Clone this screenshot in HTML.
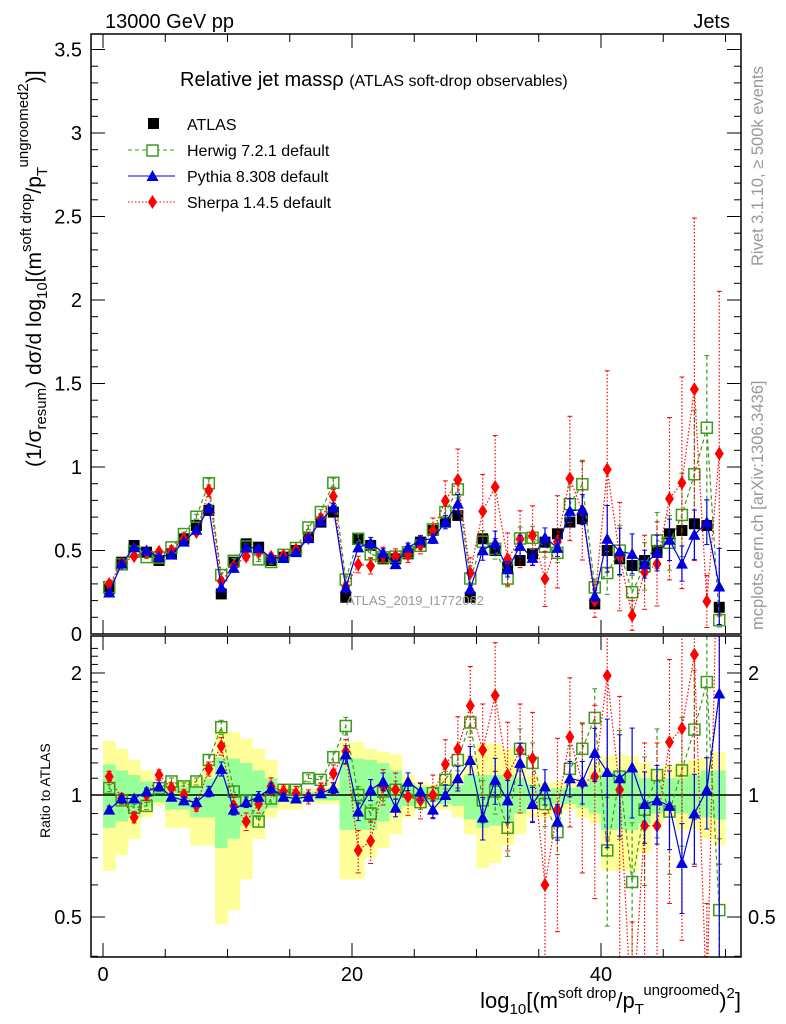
<!DOCTYPE html>
<html><head><meta charset="utf-8">
<style>
html,body{margin:0;background:#fff;width:786px;height:1024px;overflow:hidden;}
svg{display:block;font-family:"Liberation Sans",sans-serif;}
</style></head>
<body>
<svg id="chart" width="786" height="1024" viewBox="0 0 786 1024">
<g id="bands"></g>
<g id="marks"></g>
<g id="axes"></g>
<text x="105" y="28" font-size="20">13000 GeV pp</text>
<text x="730" y="28" font-size="20" text-anchor="end">Jets</text>
<text x="180" y="86" font-size="20">Relative jet massρ <tspan font-size="16">(ATLAS soft-drop observables)</tspan></text>
<g>
<rect x="148" y="118" width="11" height="11" fill="#000"/>
<text x="187" y="130" font-size="16">ATLAS</text>
<line x1="128" y1="150" x2="175" y2="150" stroke="#3d9a1a" stroke-dasharray="4,3"/>
<rect x="147" y="145" width="11" height="11" fill="#fff" stroke="#3d9a1a" stroke-width="1.5"/>
<text x="187" y="156" font-size="16">Herwig 7.2.1 default</text>
<line x1="128" y1="176" x2="175" y2="176" stroke="#0000dd"/>
<polygon points="152.5,170 158.5,181 146.5,181" fill="#0000dd"/>
<text x="187" y="182" font-size="16">Pythia 8.308 default</text>
<line x1="128" y1="202" x2="175" y2="202" stroke="#f00" stroke-dasharray="1.5,2"/>
<polygon points="152.5,195 157,202 152.5,209 148,202" fill="#f00"/>
<text x="187" y="208" font-size="16">Sherpa 1.4.5 default</text>
</g>
<text x="415" y="605" font-size="13" fill="#999" text-anchor="middle">ATLAS_2019_I1772062</text>
<text transform="translate(763,266) rotate(-90)" font-size="16.5" fill="#999">Rivet 3.1.10, ≥ 500k events</text>
<text transform="translate(763,630) rotate(-90)" font-size="16.5" fill="#999">mcplots.cern.ch [arXiv:1306.3436]</text>
<text transform="translate(41,467) rotate(-90)" font-size="21">(1/σ<tspan font-size="15" dy="5">resum</tspan><tspan dy="-5">) dσ/d log</tspan><tspan font-size="15" dy="6">10</tspan><tspan dy="-6">[(m</tspan><tspan font-size="15" dy="-10">soft drop</tspan><tspan dy="10">/p</tspan><tspan font-size="15" dy="6">T</tspan><tspan font-size="15" dy="-19">ungroomed</tspan><tspan font-size="15" dy="0">2</tspan><tspan dy="13">)]</tspan></text>
<text transform="translate(50,838) rotate(-90)" font-size="14">Ratio to ATLAS</text>
<text x="741" y="1008" font-size="22" text-anchor="end">log<tspan font-size="15" dy="6">10</tspan><tspan dy="-6">[(m</tspan><tspan font-size="15" dy="-10">soft drop</tspan><tspan dy="10">/p</tspan><tspan font-size="15" dy="6">T</tspan><tspan font-size="15" dy="-19">ungroomed</tspan><tspan dy="13">)</tspan><tspan font-size="15" dy="-10">2</tspan><tspan dy="10">]</tspan></text>
</svg>
<script>
const bins = [0,1,2,3,4,5,6,7,8,9,10,11,12,13,14,15,16,17,18,19,20,21,22,23,24,25,26,27,28,29,30,31,32,33,34,35,36,37,38,39,40,41,42,43,44,45,46,47,48,49];
const atlas = [0.27,0.43,0.53,0.49,0.44,0.48,0.57,0.65,0.74,0.24,0.43,0.54,0.52,0.44,0.46,0.5,0.58,0.67,0.73,0.22,0.57,0.53,0.45,0.45,0.48,0.55,0.62,0.67,0.71,0.22,0.57,0.5,0.4,0.44,0.48,0.55,0.6,0.67,0.69,0.18,0.5,0.45,0.41,0.44,0.5,0.6,0.62,0.66,0.65,0.16];
const herwigRatio = [1.04,0.97,0.93,0.94,1.04,1.08,1.05,1.08,1.22,1.47,1.02,0.97,0.86,0.98,1.03,1.03,1.10,1.09,1.24,1.48,1.0,0.90,1.02,1.03,1.02,0.96,1.01,1.09,1.22,1.51,0.97,1.02,0.83,1.30,1.20,0.95,0.81,1.16,1.30,1.55,0.73,1.11,0.61,0.92,1.12,0.91,1.15,1.45,1.90,0.52];
const pythiaRatio = [0.92,0.98,0.98,1.02,1.05,0.99,0.97,0.96,1.02,1.16,0.92,0.96,0.99,1.04,0.99,0.98,0.99,1.01,1.04,1.26,0.91,1.03,1.08,0.93,1.08,1.02,0.92,1.0,1.10,1.22,0.88,1.09,0.97,1.20,0.95,1.05,0.86,1.10,1.08,1.27,1.14,1.10,1.17,0.95,0.97,0.94,0.68,0.90,1.03,1.78];
const sherpaRatio = [1.11,0.98,0.88,1.0,1.12,1.04,1.0,0.94,1.16,1.32,0.94,0.86,0.95,1.05,1.02,1.01,0.99,1.03,1.13,1.28,0.73,0.77,1.05,1.03,0.99,0.97,1.0,1.19,1.30,1.66,1.29,1.76,1.12,1.29,1.23,0.60,0.92,1.39,1.07,1.11,1.97,1.03,0.27,0.84,0.84,1.35,1.46,2.22,0.30,6.75];
const herwigErr = [0.02,0.02,0.02,0.02,0.02,0.02,0.02,0.02,0.03,0.04,0.03,0.03,0.03,0.03,0.02,0.02,0.02,0.02,0.03,0.05,0.05,0.05,0.05,0.05,0.04,0.04,0.04,0.05,0.06,0.08,0.12,0.12,0.15,0.12,0.12,0.12,0.12,0.14,0.16,0.18,0.35,0.3,0.4,0.35,0.3,0.3,0.35,0.4,0.35,0.5];
const pythiaErr = [0.02,0.02,0.02,0.02,0.02,0.02,0.02,0.02,0.03,0.04,0.03,0.03,0.03,0.03,0.02,0.02,0.02,0.02,0.03,0.05,0.05,0.06,0.05,0.05,0.05,0.05,0.05,0.06,0.07,0.08,0.12,0.13,0.12,0.12,0.1,0.1,0.1,0.1,0.12,0.15,0.35,0.28,0.25,0.2,0.22,0.22,0.25,0.25,0.2,0.8];
const sherpaErr = [0.03,0.03,0.03,0.03,0.03,0.03,0.03,0.03,0.04,0.05,0.05,0.05,0.05,0.05,0.04,0.04,0.04,0.04,0.05,0.07,0.12,0.12,0.1,0.1,0.1,0.1,0.12,0.15,0.2,0.25,0.3,0.35,0.35,0.3,0.3,0.5,0.5,0.4,0.4,0.5,0.6,0.7,0.8,0.6,0.6,0.6,0.7,0.7,0.8,0.9];
const yellowUp = [1.36,1.30,1.22,1.15,1.06,1.08,1.08,1.10,1.20,1.45,1.43,1.38,1.30,1.22,1.06,1.04,1.03,1.04,1.08,1.35,1.35,1.30,1.28,1.26,1.12,1.08,1.06,1.10,1.13,1.25,1.34,1.34,1.30,1.22,1.12,1.07,1.08,1.08,1.10,1.20,1.25,1.26,1.25,1.20,1.15,1.18,1.20,1.22,1.24,1.28];
const yellowDn = [0.65,0.71,0.78,0.88,0.94,0.83,0.83,0.75,0.75,0.48,0.52,0.62,0.78,0.88,0.92,0.92,0.96,0.95,0.95,0.62,0.62,0.70,0.74,0.80,0.88,0.93,0.93,0.92,0.88,0.80,0.66,0.68,0.75,0.80,0.88,0.88,0.90,0.92,0.88,0.85,0.65,0.65,0.65,0.72,0.85,0.88,0.82,0.82,0.78,0.75];
const greenUp = [1.19,1.15,1.12,1.08,1.04,1.05,1.05,1.05,1.10,1.24,1.23,1.20,1.15,1.10,1.03,1.02,1.02,1.02,1.04,1.23,1.23,1.22,1.20,1.15,1.07,1.05,1.03,1.05,1.06,1.12,1.12,1.12,1.12,1.10,1.06,1.03,1.04,1.04,1.05,1.10,1.14,1.15,1.14,1.10,1.08,1.10,1.10,1.12,1.15,1.15];
const greenDn = [0.83,0.86,0.88,0.93,0.96,0.92,0.92,0.88,0.88,0.74,0.78,0.84,0.88,0.93,0.96,0.96,0.98,0.97,0.97,0.82,0.82,0.82,0.86,0.92,0.94,0.95,0.96,0.95,0.94,0.87,0.83,0.84,0.86,0.90,0.94,0.94,0.95,0.95,0.93,0.90,0.82,0.82,0.82,0.85,0.90,0.93,0.90,0.88,0.88,0.87];
const yTicks = [0,0.5,1,1.5,2,2.5,3,3.5];
const yTickLabels = ["0","0.5","1","1.5","2","2.5","3","3.5"];
const rTicks = [0.5,1,2];
const rTickLabels = ["0.5","1","2"];
const xTicks = [0,20,40];
const xTickLabels = ["0","20","40"];

const NS="http://www.w3.org/2000/svg";
const L=91,R=741,T1=34,B1=634,T2=636,B2=957;
const xs=v=>103+12.45*v;
const ys=v=>634-167*v;
const rsRaw=v=>795-122*Math.log2(v);
const rs=v=>Math.max(T2,Math.min(B2,rsRaw(v)));
function mk(tag,attrs,parent){const e=document.createElementNS(NS,tag);for(const k in attrs)e.setAttribute(k,attrs[k]);parent.appendChild(e);return e;}
const bandsG=document.getElementById('bands'),marksG=document.getElementById('marks'),axesG=document.getElementById('axes');

bins.forEach((b,i)=>{
  const x0=xs(b),x1=xs(b+1);
  let r=mk('rect',{x:x0,y:rs(yellowUp[i]),width:x1-x0+0.3,height:rs(yellowDn[i])-rs(yellowUp[i]),fill:'#ffff99'},bandsG);
  
  
  let g=mk('rect',{x:x0,y:rs(greenUp[i]),width:x1-x0+0.3,height:rs(greenDn[i])-rs(greenUp[i]),fill:'#99ff99'},bandsG);
  
  
});
let ref=mk('line',{x1:L,x2:R,y1:rsRaw(1),y2:rsRaw(1),stroke:'#000','stroke-width':1.5},bandsG);



const defs=mk('defs',{},document.getElementById('chart'));
const c1=mk('clipPath',{id:'c1'},defs);mk('rect',{x:L,y:T1,width:R-L,height:B1-T1},c1);
const c2=mk('clipPath',{id:'c2'},defs);mk('rect',{x:L,y:T2,width:R-L,height:B2-T2},c2);

const series=[
 {name:'herwig',ratio:herwigRatio,err:herwigErr,color:'#3d9a1a',dash:'4,3',marker:'sq'},
 {name:'sherpa',ratio:sherpaRatio,err:sherpaErr,color:'#ff0000',dash:'1.5,2',marker:'dia'},
 {name:'pythia',ratio:pythiaRatio,err:pythiaErr,color:'#0000dd',dash:'',marker:'tri'}
];
function marker(type,x,y,color,g){
  if(type==='sq') return mk('rect',{x:x-5.5,y:y-5.5,width:11,height:11,fill:'none',stroke:color,'stroke-width':1.5},g);
  if(type==='tri') return mk('polygon',{points:`${x},${y-6} ${x+6},${y+5} ${x-6},${y+5}`,fill:color},g);
  return mk('polygon',{points:`${x},${y-7} ${x+4.5},${y} ${x},${y+7} ${x-4.5},${y}`,fill:color},g);
}
function drawPanel(clip,yf,valsFn,errFn){
  const pg=mk('g',{'clip-path':`url(#${clip})`},marksG);
  series.forEach(s=>{
    const g=mk('g',{},pg);
    
    
    const pts=bins.map((b,i)=>[xs(b+0.5),yf(valsFn(s,i))]);
    mk('polyline',{points:pts.map(p=>p.join(',')).join(' '),fill:'none',stroke:s.color,'stroke-width':1.2,'stroke-dasharray':s.dash},g);
    bins.forEach((b,i)=>{
      const v=valsFn(s,i),e=errFn(s,i),x=xs(b+0.5);
      const lo=Math.max(v-e,0.001);
      mk('line',{x1:x,x2:x,y1:yf(v+e),y2:yf(lo),stroke:s.color,'stroke-width':1.2,'stroke-dasharray':s.dash},g);
      mk('line',{x1:x-2.5,x2:x+2.5,y1:yf(v+e),y2:yf(v+e),stroke:s.color},g);
      mk('line',{x1:x-2.5,x2:x+2.5,y1:yf(lo),y2:yf(lo),stroke:s.color},g);
      const m=marker(s.marker,x,yf(v),s.color,g);
      
      
    });
  });
  return pg;
}
const ag=mk('g',{'clip-path':'url(#c1)'},marksG);


bins.forEach((b,i)=>{
  const x=xs(b+0.5),y=ys(atlas[i]);
  const m=mk('rect',{x:x-5.5,y:y-5.5,width:11,height:11,fill:'#000'},ag);
  
  
});
drawPanel('c1',ys,(s,i)=>s.ratio[i]*atlas[i],(s,i)=>s.err[i]*s.ratio[i]*atlas[i]);
drawPanel('c2',v=>rsRaw(Math.max(v,0.05)),(s,i)=>s.ratio[i],(s,i)=>s.err[i]*s.ratio[i]);

[[T1,B1],[T2,B2]].forEach(([t,b],k)=>{
  const f=mk('rect',{x:L,y:t,width:R-L,height:b-t,fill:'none',stroke:'#000','stroke-width':1.5},axesG);
  
  
  for(let v=0;v<=50;v+=5){
    const x=xs(v),len=(v%20===0)?14:8;
    mk('line',{x1:x,x2:x,y1:b,y2:b-len,stroke:'#000'},axesG);
    mk('line',{x1:x,x2:x,y1:t,y2:t+len,stroke:'#000'},axesG);
  }
});
for(let v=0;v<=3.55;v+=0.1){
  const y=ys(v),maj=Math.abs(v*2-Math.round(v*2))<1e-6,len=maj?14:7;
  mk('line',{x1:L,x2:L+len,y1:y,y2:y,stroke:'#000'},axesG);
  mk('line',{x1:R,x2:R-len,y1:y,y2:y,stroke:'#000'},axesG);
}
yTicks.forEach((v,i)=>{
  const t=mk('text',{x:L-9,y:ys(v)+7,'font-size':20,'text-anchor':'end'},axesG);
  t.textContent=yTickLabels[i];
  
  
});
for(let k=4;k<=23;k++){
  const v=k/10,y=rsRaw(v);if(y<T2||y>B2)continue;
  const maj=(k===5||k===10||k===20),len=maj?14:7;
  mk('line',{x1:L,x2:L+len,y1:y,y2:y,stroke:'#000'},axesG);
  mk('line',{x1:R,x2:R-len,y1:y,y2:y,stroke:'#000'},axesG);
}
rTicks.forEach((v,i)=>{
  const t=mk('text',{x:L-9,y:rsRaw(v)+7,'font-size':20,'text-anchor':'end'},axesG);
  t.textContent=rTickLabels[i];
  
  
  const t2=mk('text',{x:R+7,y:rsRaw(v)+7,'font-size':20},axesG);
  t2.textContent=rTickLabels[i];
  
  
});
xTicks.forEach((v,i)=>{
  const t=mk('text',{x:xs(v),y:B2+24,'font-size':20,'text-anchor':'middle'},axesG);
  t.textContent=xTickLabels[i];
  
  
});
</script>
</body></html>
